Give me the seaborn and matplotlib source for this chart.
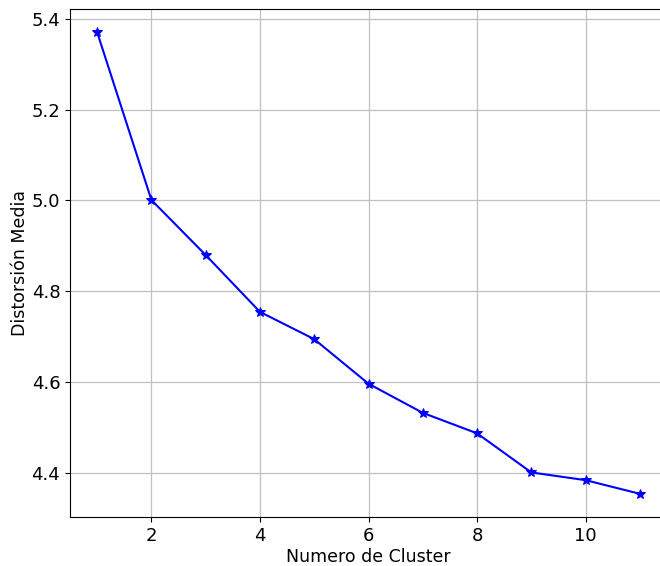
import matplotlib
matplotlib.use("Agg")
import matplotlib.pyplot as plt
import seaborn as sns
import pandas as pd

# Distortion per number of clusters (elbow method)
clusters = [1, 2, 3, 4, 5, 6, 7, 8, 9, 10, 11]
distorsion = [5.370, 5.001, 4.880, 4.755, 4.695, 4.597, 4.533, 4.488, 4.402, 4.385, 4.355]

df = pd.DataFrame({"k": clusters, "d": distorsion})

fig = plt.figure(figsize=(6.6, 5.66), dpi=100)
ax = fig.add_axes([70 / 660, 49 / 566, 597 / 660, 508 / 566])

sns.lineplot(data=df, x="k", y="d", ax=ax, color="blue", marker="*",
             markersize=7, markeredgecolor="blue", linewidth=1.5)

ax.set_xlim(0.5, 11.5)
ax.set_ylim(4.304, 5.421)
ax.grid(True, color="#c0c0c0", linewidth=0.9)
ax.tick_params(labelsize=13)
ax.set_xlabel("Numero de Cluster", fontsize=12.5, labelpad=2)
ax.set_ylabel("Distorsión Media", fontsize=12.5, labelpad=2)

fig.savefig("out.png", dpi=100)
